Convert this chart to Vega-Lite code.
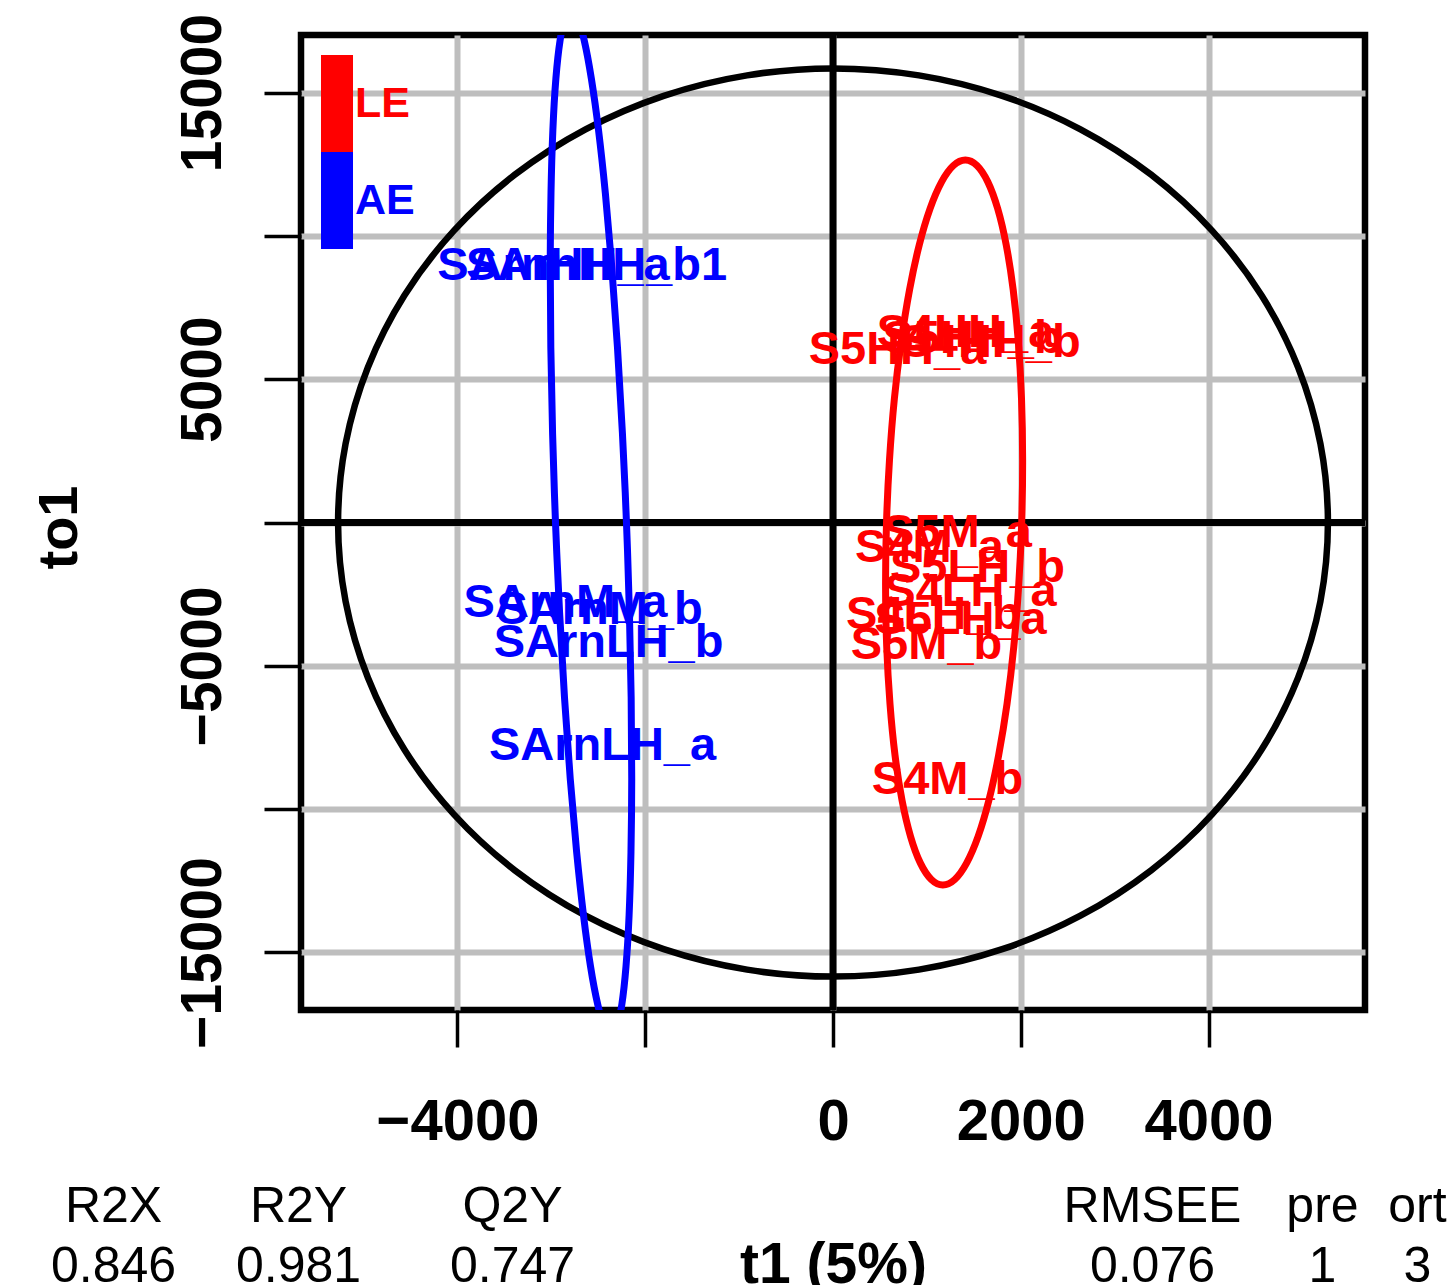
{
  "$schema": "https://vega.github.io/schema/vega-lite/v6.json",
  "width": 1064,
  "height": 975,
  "autosize": "none",
  "padding": {"left": 301, "top": 35, "right": 86, "bottom": 275},
  "background": "white",
  "config": {
    "view": {"stroke": "#000000", "strokeWidth": 6.5},
    "font": "Liberation Sans"
  },
  "datasets": {
    "black": [
      {"i":0,"t1":5272,"to1":0},{"i":1,"t1":5192,"to1":2750},{"i":2,"t1":4954,"to1":5417},{"i":3,"t1":4566,"to1":7920},
      {"i":4,"t1":4038,"to1":10182},{"i":5,"t1":3389,"to1":12133},{"i":6,"t1":2636,"to1":13717},{"i":7,"t1":1803,"to1":14885},
      {"i":8,"t1":915,"to1":15599},{"i":9,"t1":0,"to1":15840},{"i":10,"t1":-915,"to1":15599},{"i":11,"t1":-1803,"to1":14885},
      {"i":12,"t1":-2636,"to1":13717},{"i":13,"t1":-3389,"to1":12133},{"i":14,"t1":-4038,"to1":10182},{"i":15,"t1":-4566,"to1":7920},
      {"i":16,"t1":-4954,"to1":5417},{"i":17,"t1":-5192,"to1":2750},{"i":18,"t1":-5272,"to1":0},{"i":19,"t1":-5192,"to1":-2750},
      {"i":20,"t1":-4954,"to1":-5417},{"i":21,"t1":-4566,"to1":-7920},{"i":22,"t1":-4038,"to1":-10182},{"i":23,"t1":-3389,"to1":-12133},
      {"i":24,"t1":-2636,"to1":-13717},{"i":25,"t1":-1803,"to1":-14885},{"i":26,"t1":-915,"to1":-15599},{"i":27,"t1":0,"to1":-15840},
      {"i":28,"t1":915,"to1":-15599},{"i":29,"t1":1803,"to1":-14885},{"i":30,"t1":2636,"to1":-13717},{"i":31,"t1":3389,"to1":-12133},
      {"i":32,"t1":4038,"to1":-10182},{"i":33,"t1":4566,"to1":-7920},{"i":34,"t1":4954,"to1":-5417},{"i":35,"t1":5192,"to1":-2750}
    ],
    "ellAE": [
      {"i":0,"t1":-2791,"to1":17880},{"i":1,"t1":-2722,"to1":17608},{"i":2,"t1":-2649,"to1":16802},{"i":3,"t1":-2574,"to1":15484},
      {"i":4,"t1":-2498,"to1":13696},{"i":5,"t1":-2425,"to1":11493},{"i":6,"t1":-2357,"to1":8940},{"i":7,"t1":-2296,"to1":6115},
      {"i":8,"t1":-2243,"to1":3104},{"i":9,"t1":-2200,"to1":0},{"i":10,"t1":-2169,"to1":-3104},{"i":11,"t1":-2150,"to1":-6115},
      {"i":12,"t1":-2144,"to1":-8940},{"i":13,"t1":-2152,"to1":-11493},{"i":14,"t1":-2172,"to1":-13696},{"i":15,"t1":-2205,"to1":-15484},
      {"i":16,"t1":-2249,"to1":-16802},{"i":17,"t1":-2303,"to1":-17608},{"i":18,"t1":-2365,"to1":-17880},{"i":19,"t1":-2434,"to1":-17608},
      {"i":20,"t1":-2507,"to1":-16802},{"i":21,"t1":-2583,"to1":-15484},{"i":22,"t1":-2658,"to1":-13696},{"i":23,"t1":-2731,"to1":-11493},
      {"i":24,"t1":-2799,"to1":-8940},{"i":25,"t1":-2860,"to1":-6115},{"i":26,"t1":-2913,"to1":-3104},{"i":27,"t1":-2956,"to1":0},
      {"i":28,"t1":-2987,"to1":3104},{"i":29,"t1":-3006,"to1":6115},{"i":30,"t1":-3012,"to1":8940},{"i":31,"t1":-3004,"to1":11493},
      {"i":32,"t1":-2984,"to1":13696},{"i":33,"t1":-2952,"to1":15484},{"i":34,"t1":-2908,"to1":16802},{"i":35,"t1":-2853,"to1":17608}
    ],
    "ellLE": [
      {"i":0,"t1":1410,"to1":12645},{"i":1,"t1":1533,"to1":12453},{"i":2,"t1":1649,"to1":11883},{"i":3,"t1":1754,"to1":10951},
      {"i":4,"t1":1845,"to1":9686},{"i":5,"t1":1919,"to1":8128},{"i":6,"t1":1974,"to1":6323},{"i":7,"t1":2008,"to1":4325},
      {"i":8,"t1":2020,"to1":2195},{"i":9,"t1":2010,"to1":0},{"i":10,"t1":1978,"to1":-2195},{"i":11,"t1":1926,"to1":-4325},
      {"i":12,"t1":1854,"to1":-6323},{"i":13,"t1":1764,"to1":-8128},{"i":14,"t1":1661,"to1":-9686},{"i":15,"t1":1546,"to1":-10951},
      {"i":16,"t1":1423,"to1":-11883},{"i":17,"t1":1297,"to1":-12453},{"i":18,"t1":1170,"to1":-12645},{"i":19,"t1":1047,"to1":-12453},
      {"i":20,"t1":931,"to1":-11883},{"i":21,"t1":826,"to1":-10951},{"i":22,"t1":735,"to1":-9686},{"i":23,"t1":661,"to1":-8128},
      {"i":24,"t1":607,"to1":-6323},{"i":25,"t1":572,"to1":-4325},{"i":26,"t1":560,"to1":-2195},{"i":27,"t1":570,"to1":0},
      {"i":28,"t1":602,"to1":2195},{"i":29,"t1":654,"to1":4325},{"i":30,"t1":727,"to1":6323},{"i":31,"t1":816,"to1":8128},
      {"i":32,"t1":919,"to1":9686},{"i":33,"t1":1034,"to1":10951},{"i":34,"t1":1157,"to1":11883},{"i":35,"t1":1283,"to1":12453}
    ],
    "samples": [
      {"sample":"SArnHH_a","group":"AE","t1":-2977,"to1":8948},
      {"sample":"SArnHH_b1","group":"AE","t1":-2519,"to1":8948},
      {"sample":"SArnM_a","group":"AE","t1":-2850,"to1":-2808},
      {"sample":"SArnM_b","group":"AE","t1":-2487,"to1":-3052},
      {"sample":"SArnLH_b","group":"AE","t1":-2391,"to1":-4203},
      {"sample":"SArnLH_a","group":"AE","t1":-2455,"to1":-7796},
      {"sample":"S5HH_a","group":"LE","t1":687,"to1":6017},
      {"sample":"S4HH_a","group":"LE","t1":1411,"to1":6610},
      {"sample":"S5HH_b","group":"LE","t1":1486,"to1":6401},
      {"sample":"S4HH_b","group":"LE","t1":1678,"to1":6262},
      {"sample":"S5M_a","group":"LE","t1":1326,"to1":-366},
      {"sample":"S4M_a","group":"LE","t1":1028,"to1":-890},
      {"sample":"S5LH_b","group":"LE","t1":1539,"to1":-1587},
      {"sample":"S4LH_a","group":"LE","t1":1465,"to1":-2424},
      {"sample":"S4LH_b","group":"LE","t1":1071,"to1":-3227},
      {"sample":"S5LH_a","group":"LE","t1":1358,"to1":-3401},
      {"sample":"S5M_b","group":"LE","t1":996,"to1":-4273},
      {"sample":"S4M_b","group":"LE","t1":1220,"to1":-8982}
    ],
    "stats": [
      {"stat":"R2X","val":"0.846","t1":-7664},
      {"stat":"R2Y","val":"0.981","t1":-5693},
      {"stat":"Q2Y","val":"0.747","t1":-3414},
      {"stat":"RMSEE","val":"0.076","t1":3403},
      {"stat":"pre","val":"1","t1":5214},
      {"stat":"ort","val":"3","t1":6226}
    ]
  },
  "layer": [
    {
      "data": {"values": [{"t1": 0}]},
      "mark": {"type": "rule", "color": "#000000", "strokeWidth": 7},
      "encoding": {
        "x": {
          "field": "t1", "type": "quantitative", "title": "t1 (5%)",
          "scale": {"domain": [-5667, 5667], "nice": false, "zero": false},
          "axis": {
            "values": [-4000, -2000, 0, 2000, 4000],
            "format": "d",
            "labelExpr": "datum.value == -2000 ? '' : datum.label",
            "domain": false,
            "grid": true, "gridColor": "#BEBEBE", "gridWidth": 6, "gridOpacity": 1,
            "ticks": true, "tickSize": 37, "tickWidth": 3.5, "tickColor": "#000000",
            "labelFont": "Liberation Sans", "labelFontSize": 58, "labelFontWeight": "bold", "labelColor": "#000000",
            "labelPadding": 46, "labelOverlap": false, "labelFlush": false, "labelLimit": 400,
            "titleFont": "Liberation Sans", "titleFontSize": 57, "titleFontWeight": "bold", "titleColor": "#000000",
            "titleBaseline": "alphabetic", "titleAlign": "center", "titleX": 532, "titleY": 272
          }
        }
      }
    },
    {
      "data": {"values": [{"to1": 0}]},
      "mark": {"type": "rule", "color": "#000000", "strokeWidth": 7},
      "encoding": {
        "y": {
          "field": "to1", "type": "quantitative", "title": "to1",
          "scale": {"domain": [-17006, 17006], "nice": false, "zero": false},
          "axis": {
            "values": [-15000, -10000, -5000, 0, 5000, 10000, 15000],
            "format": "d",
            "labelExpr": "abs(datum.value) == 5000 || abs(datum.value) == 15000 ? datum.label : ''",
            "domain": false,
            "grid": true, "gridColor": "#BEBEBE", "gridWidth": 6, "gridOpacity": 1,
            "ticks": true, "tickSize": 37, "tickWidth": 3.5, "tickColor": "#000000",
            "labelFont": "Liberation Sans", "labelFontSize": 57, "labelFontWeight": "bold", "labelColor": "#000000",
            "labelAngle": -90, "labelAlign": "center", "labelBaseline": "alphabetic",
            "labelPadding": 44, "labelOverlap": false, "labelFlush": false, "labelLimit": 400,
            "titleFont": "Liberation Sans", "titleFontSize": 56, "titleFontWeight": "bold", "titleColor": "#000000",
            "titleAngle": 270, "titleBaseline": "alphabetic", "titleAlign": "center", "titleX": -225, "titleY": 492
          }
        }
      }
    },
    {
      "data": {"name": "black"},
      "mark": {"type": "line", "color": "#000000", "strokeWidth": 6.5, "clip": true, "interpolate": "cardinal-closed"},
      "encoding": {
        "x": {"field": "t1", "type": "quantitative", "title": "t1 (5%)", "scale": {"domain": [-5667, 5667], "nice": false, "zero": false}},
        "y": {"field": "to1", "type": "quantitative", "title": "to1", "scale": {"domain": [-17006, 17006], "nice": false, "zero": false}},
        "order": {"field": "i", "type": "quantitative"}
      }
    },
    {
      "data": {"name": "ellAE"},
      "mark": {"type": "line", "color": "#0000FF", "strokeWidth": 7, "clip": true, "interpolate": "cardinal-closed"},
      "encoding": {
        "x": {"field": "t1", "type": "quantitative", "title": "t1 (5%)", "scale": {"domain": [-5667, 5667], "nice": false, "zero": false}},
        "y": {"field": "to1", "type": "quantitative", "title": "to1", "scale": {"domain": [-17006, 17006], "nice": false, "zero": false}},
        "order": {"field": "i", "type": "quantitative"}
      }
    },
    {
      "data": {"name": "ellLE"},
      "mark": {"type": "line", "color": "#FF0000", "strokeWidth": 7, "clip": true, "interpolate": "cardinal-closed"},
      "encoding": {
        "x": {"field": "t1", "type": "quantitative", "title": "t1 (5%)", "scale": {"domain": [-5667, 5667], "nice": false, "zero": false}},
        "y": {"field": "to1", "type": "quantitative", "title": "to1", "scale": {"domain": [-17006, 17006], "nice": false, "zero": false}},
        "order": {"field": "i", "type": "quantitative"}
      }
    },
    {
      "data": {"name": "samples"},
      "mark": {"type": "text", "font": "Liberation Sans", "fontSize": 47, "fontWeight": "bold", "align": "center", "baseline": "middle"},
      "encoding": {
        "x": {"field": "t1", "type": "quantitative", "title": "t1 (5%)", "scale": {"domain": [-5667, 5667], "nice": false, "zero": false}},
        "y": {"field": "to1", "type": "quantitative", "title": "to1", "scale": {"domain": [-17006, 17006], "nice": false, "zero": false}},
        "text": {"field": "sample", "type": "nominal"},
        "color": {
          "field": "group", "type": "nominal",
          "scale": {"domain": ["LE", "AE"], "range": ["#FF0000", "#0000FF"]},
          "legend": {
            "orient": "none", "legendX": -12.5, "legendY": 20, "title": null, "padding": 0,
            "symbolType": "M-0.33,-1H0.33V1H-0.33Z", "symbolSize": 9409, "symbolStrokeWidth": 0, "symbolOpacity": 1,
            "rowPadding": 0, "labelOffset": -30.5,
            "labelFont": "Liberation Sans", "labelFontSize": 43, "labelFontWeight": "bold",
            "encode": {"labels": {"update": {"fill": {"scale": "color", "field": "value"}}}}
          }
        }
      }
    },
    {
      "data": {"name": "stats"},
      "mark": {"type": "text", "font": "Liberation Sans", "fontSize": 50, "align": "center", "baseline": "alphabetic", "color": "#000000"},
      "encoding": {
        "x": {"field": "t1", "type": "quantitative", "title": "t1 (5%)", "scale": {"domain": [-5667, 5667], "nice": false, "zero": false}},
        "y": {"datum": -24402, "type": "quantitative", "scale": {"domain": [-17006, 17006], "nice": false, "zero": false}},
        "text": {"field": "stat", "type": "nominal"}
      }
    },
    {
      "data": {"name": "stats"},
      "mark": {"type": "text", "font": "Liberation Sans", "fontSize": 50, "align": "center", "baseline": "alphabetic", "color": "#000000"},
      "encoding": {
        "x": {"field": "t1", "type": "quantitative", "title": "t1 (5%)", "scale": {"domain": [-5667, 5667], "nice": false, "zero": false}},
        "y": {"datum": -26495, "type": "quantitative", "scale": {"domain": [-17006, 17006], "nice": false, "zero": false}},
        "text": {"field": "val", "type": "nominal"}
      }
    }
  ]
}
